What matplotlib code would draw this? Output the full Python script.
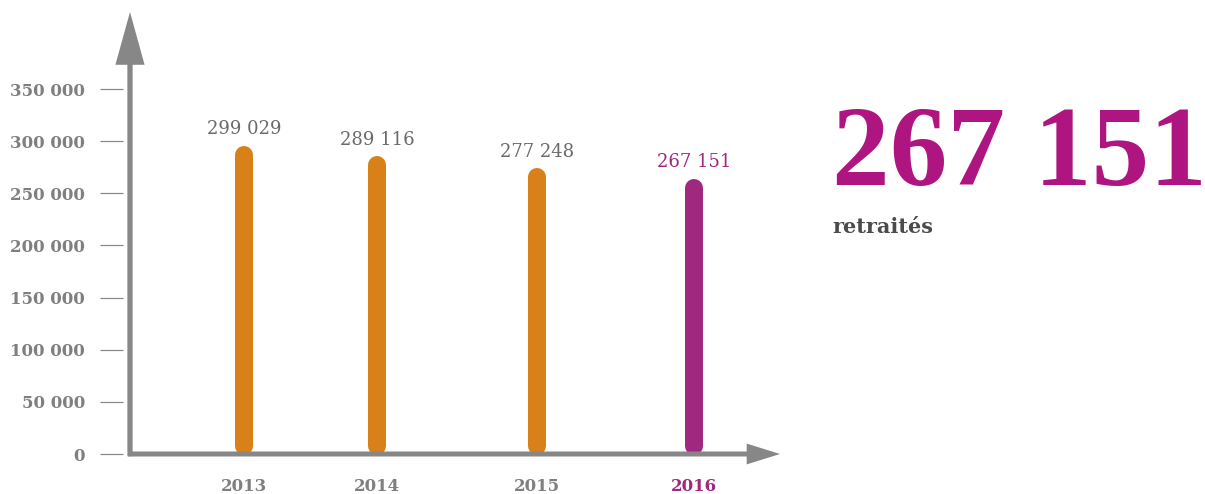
import matplotlib
matplotlib.use("Agg")
import matplotlib.pyplot as plt

years = ["2013", "2014", "2015", "2016"]
retired = [299029, 289116, 277248, 267151]
value_labels = ["299 029", "289 116", "277 248", "267 151"]
yticks = [0, 50000, 100000, 150000, 200000, 250000, 300000, 350000]
ytick_labels = ["0", "50 000", "100 000", "150 000", "200 000",
                "250 000", "300 000", "350 000"]
headline = "267 151"
subline = "retraités"

# layout (pixel offsets along the x axis, bars are not evenly spaced)
bar_x = [114, 247, 407, 564]

ORANGE = "#D78118"
PURPLE = "#A0287E"
MAGENTA = "#AE1580"
GREY = "#878787"
PX = 72 / 100  # points per pixel at dpi 100

fig = plt.figure(figsize=(12.05, 4.94), dpi=100)
ax = fig.add_axes([130 / 1205, 40 / 494, 650 / 1205, 442 / 494])
ax.set_xlim(0, 650)
ax.set_ylim(0, 423850)
for s in ax.spines.values():
    s.set_visible(False)
ax.spines["left"].set_position(("outward", 7 * PX))

colors = [ORANGE, ORANGE, ORANGE, PURPLE]
for x, v, lab, c in zip(bar_x, retired, value_labels, colors):
    ax.plot([x, x], [8000, v - 12000], color=c, lw=18 * PX,
            solid_capstyle="round", zorder=2)
    ax.annotate(lab, (x, v), xytext=(0, 13 * PX), textcoords="offset points",
                ha="center", va="center", fontsize=13, family="DejaVu Serif",
                color="#6a6a6a" if c == ORANGE else PURPLE)

# axes with filled arrow heads
ax.annotate("", xy=(0, 1), xytext=(0, -0.005), xycoords="axes fraction",
            arrowprops=dict(arrowstyle="simple,head_length=38,head_width=21,"
                                       "tail_width=3.8",
                            mutation_scale=1, fc=GREY, ec="none", lw=0,
                            shrinkA=0, shrinkB=0), zorder=3)
ax.annotate("", xy=(1, 0), xytext=(-0.003, 0), xycoords="axes fraction",
            arrowprops=dict(arrowstyle="simple,head_length=24,head_width=15,"
                                       "tail_width=3.6",
                            mutation_scale=1, fc=GREY, ec="none", lw=0,
                            shrinkA=0, shrinkB=0), zorder=3)

ax.set_yticks(yticks)
ax.set_yticklabels(ytick_labels, family="DejaVu Serif", weight="bold",
                   fontsize=12, color="#7f7f7f")
ax.tick_params(axis="y", direction="out", length=23 * PX, width=1.2 * PX,
               color=GREY, pad=15 * PX)

ax.set_xticks(bar_x)
ax.set_xticklabels(years, family="DejaVu Serif", weight="bold", fontsize=12)
ax.tick_params(axis="x", length=0, pad=17)
for t, c in zip(ax.get_xticklabels(), colors):
    t.set_color("#7f7f7f" if c == ORANGE else PURPLE)

fig.text(832 / 1205, (494 - 185) / 494, headline, family="Liberation Serif",
         weight="bold", fontsize=83, color=MAGENTA, va="baseline")
fig.text(832 / 1205, (494 - 233) / 494, subline, family="DejaVu Serif",
         weight="bold", fontsize=15, color="#4b4b4b", va="baseline")

fig.savefig("out.png", dpi=100, facecolor="white")
